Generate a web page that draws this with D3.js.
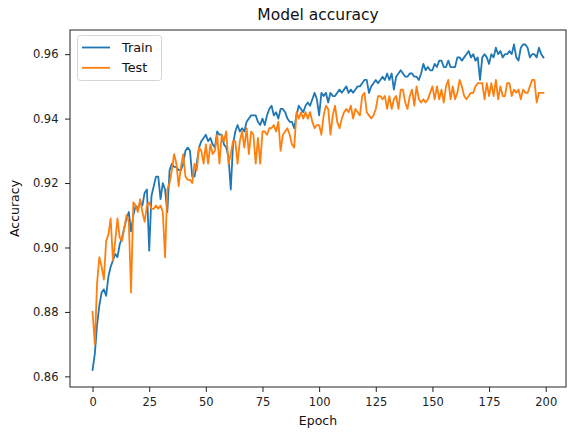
<!DOCTYPE html>
<html><head><meta charset="utf-8">
<script src="https://cdn.jsdelivr.net/npm/d3@7"></script>
<style>
body{margin:0;background:#fff;}
text{font-family:"DejaVu Sans",sans-serif;}
</style></head>
<body><svg id="c" width="580" height="434"></svg>
<script>
const title = "Model accuracy";
const xLabel = "Epoch";
const yLabel = "Accuracy";
const seriesNames = ["Train", "Test"];
const xTicks = [0, 25, 50, 75, 100, 125, 150, 175, 200];
const yTicks = [0.86, 0.88, 0.90, 0.92, 0.94, 0.96];

const train = [
0.862,0.867,0.876,0.882,0.886,0.887,0.885,0.891,0.894,0.896,
0.898,0.897,0.901,0.903,0.906,0.909,0.911,0.905,0.910,0.913,
0.912,0.914,0.913,0.917,0.918,0.899,0.916,0.919,0.922,0.922,
0.915,0.920,0.918,0.911,0.924,0.926,0.925,0.925,0.924,0.924,
0.926,0.930,0.931,0.930,0.922,0.922,0.926,0.931,0.933,0.934,
0.935,0.933,0.934,0.932,0.931,0.936,0.935,0.935,0.932,0.931,
0.928,0.918,0.932,0.936,0.938,0.936,0.937,0.936,0.939,0.940,
0.941,0.941,0.941,0.939,0.938,0.940,0.938,0.941,0.943,0.944,
0.941,0.942,0.940,0.943,0.943,0.942,0.940,0.939,0.939,0.937,
0.941,0.944,0.943,0.942,0.944,0.945,0.944,0.946,0.948,0.946,
0.941,0.948,0.947,0.948,0.945,0.948,0.947,0.947,0.948,0.949,
0.948,0.949,0.950,0.948,0.949,0.948,0.949,0.950,0.950,0.951,
0.952,0.952,0.948,0.950,0.951,0.952,0.951,0.952,0.953,0.952,
0.954,0.952,0.954,0.949,0.953,0.954,0.955,0.954,0.953,0.953,
0.954,0.954,0.953,0.953,0.952,0.954,0.957,0.955,0.956,0.955,
0.955,0.957,0.956,0.958,0.958,0.956,0.956,0.958,0.956,0.956,
0.956,0.959,0.959,0.958,0.959,0.960,0.961,0.959,0.960,0.958,
0.959,0.952,0.959,0.960,0.959,0.957,0.960,0.959,0.962,0.960,
0.961,0.959,0.960,0.960,0.961,0.960,0.963,0.959,0.958,0.962,
0.963,0.963,0.962,0.959,0.960,0.960,0.959,0.962,0.960,0.959
];
const test = [
0.880,0.870,0.889,0.897,0.894,0.890,0.902,0.904,0.909,0.896,
0.902,0.909,0.903,0.902,0.906,0.910,0.908,0.886,0.914,0.913,
0.911,0.915,0.911,0.908,0.913,0.914,0.912,0.912,0.913,0.912,
0.913,0.911,0.897,0.918,0.920,0.924,0.929,0.926,0.919,0.925,
0.929,0.922,0.921,0.921,0.920,0.926,0.924,0.931,0.930,0.926,
0.932,0.926,0.932,0.929,0.930,0.935,0.926,0.935,0.933,0.936,
0.926,0.929,0.933,0.933,0.926,0.933,0.936,0.931,0.937,0.929,
0.936,0.935,0.926,0.934,0.926,0.936,0.936,0.935,0.937,0.937,
0.938,0.936,0.939,0.930,0.935,0.936,0.937,0.935,0.932,0.931,
0.942,0.940,0.942,0.940,0.942,0.940,0.942,0.939,0.937,0.938,
0.938,0.935,0.941,0.944,0.943,0.935,0.941,0.944,0.939,0.937,
0.940,0.942,0.943,0.942,0.944,0.940,0.943,0.942,0.941,0.947,
0.948,0.942,0.941,0.940,0.941,0.943,0.947,0.947,0.946,0.947,
0.943,0.947,0.943,0.946,0.947,0.943,0.949,0.949,0.945,0.943,
0.947,0.949,0.944,0.950,0.946,0.945,0.946,0.945,0.946,0.948,
0.950,0.946,0.950,0.946,0.949,0.945,0.950,0.952,0.946,0.950,
0.946,0.948,0.952,0.950,0.947,0.946,0.947,0.948,0.948,0.950,
0.951,0.951,0.951,0.946,0.951,0.947,0.951,0.947,0.952,0.946,
0.950,0.947,0.947,0.951,0.951,0.947,0.949,0.948,0.949,0.946,
0.949,0.948,0.948,0.950,0.952,0.952,0.945,0.948,0.948,0.948
];
const colors = ["#1f77b4", "#ff7f0e"];

const svg = d3.select("#c");
const L = 70, R = 566, T = 30, B = 387;
const x = d3.scaleLinear().domain([-9.95, 208.95]).range([L, R]);
const y = d3.scaleLinear().domain([0.8567, 0.9675]).range([B, T]);

const line = d3.line().x((d, i) => x(i)).y(d => y(d));
[train, test].forEach((s, k) => {
  svg.append("path").datum(s).attr("d", line)
    .attr("fill", "none").attr("stroke", colors[k])
    .attr("stroke-width", 1.8).attr("stroke-linejoin", "round").attr("stroke-linecap", "square");
});

const xa = svg.append("g").attr("transform", `translate(0,${B})`)
  .call(d3.axisBottom(x).tickValues(xTicks).tickFormat(d3.format("d")).tickSizeOuter(0).tickSize(5).tickPadding(6));
const ya = svg.append("g").attr("transform", `translate(${L},0)`)
  .call(d3.axisLeft(y).tickValues(yTicks).tickFormat(d3.format(".2f")).tickSizeOuter(0).tickSize(5).tickPadding(6.5));
[xa, ya].forEach(a => {
  a.select(".domain").remove();
  a.selectAll("text").attr("font-size", 11.5).attr("fill", "#222").style("font-family", "DejaVu Sans");
  a.selectAll("line").attr("stroke", "#222").attr("stroke-width", 1);
});

svg.append("rect").attr("x", L).attr("y", T).attr("width", R - L).attr("height", B - T)
  .attr("fill", "none").attr("stroke", "#222").attr("stroke-width", 1);

svg.append("text").attr("x", (L + R) / 2).attr("y", 20).attr("text-anchor", "middle")
  .attr("font-size", 15.5).attr("fill", "#111").text(title);
svg.append("text").attr("x", (L + R) / 2).attr("y", 425).attr("text-anchor", "middle")
  .attr("font-size", 12.5).attr("fill", "#111").text(xLabel);
svg.append("text").attr("transform", `translate(19,${(T + B) / 2}) rotate(-90)`).attr("text-anchor", "middle")
  .attr("font-size", 12.5).attr("fill", "#111").text(yLabel);

const lg = svg.append("g");
lg.append("rect").attr("x", 77.5).attr("y", 35.5).attr("width", 84).attr("height", 45).attr("rx", 3)
  .attr("fill", "#fff").attr("fill-opacity", 0.8).attr("stroke", "#d5d5d5").attr("stroke-width", 1);
seriesNames.forEach((n, k) => {
  const yy = 47.5 + k * 20.3;
  lg.append("line").attr("x1", 82).attr("x2", 110).attr("y1", yy).attr("y2", yy)
    .attr("stroke", colors[k]).attr("stroke-width", 1.8);
  lg.append("text").attr("x", 122).attr("y", yy).attr("dy", "0.36em").attr("font-size", 12.8).attr("fill", "#111").text(n);
});
</script></body></html>
